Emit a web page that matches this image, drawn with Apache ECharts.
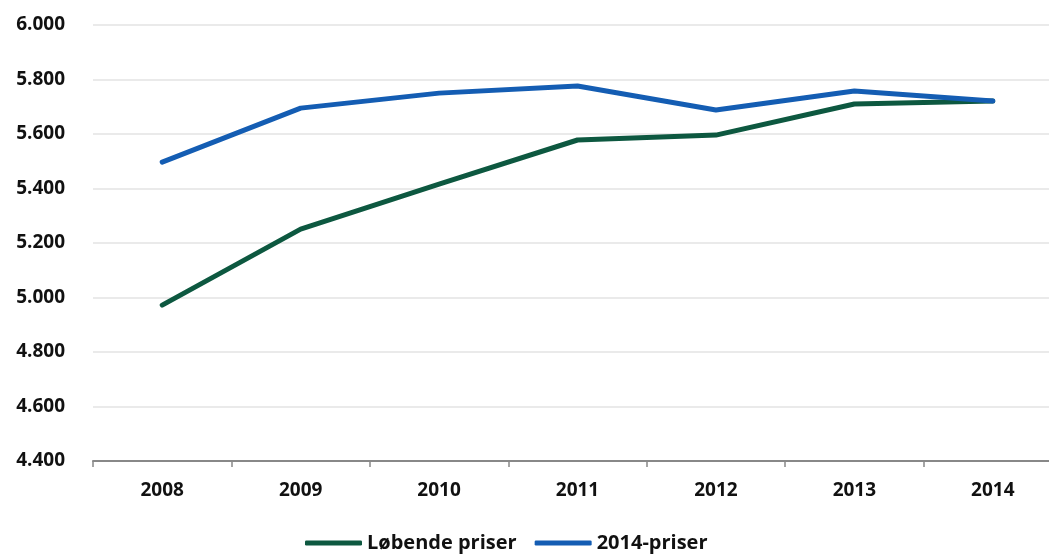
<!DOCTYPE html>
<html>
<head>
<meta charset="utf-8">
<script src="https://cdn.jsdelivr.net/npm/echarts@6/dist/echarts.min.js"></script>
<style>
html,body{margin:0;padding:0;background:#fff;overflow:hidden;width:1049px;height:555px;}
#c{width:1062px;height:555px;}
</style>
</head>
<body>
<div id="c"></div>
<script>
const categories = ['2008','2009','2010','2011','2012','2013','2014'];
const lobendePriser = [4972, 5251, 5416, 5578, 5596, 5710, 5721];
const priser2014 = [5497, 5695, 5750, 5776, 5688, 5758, 5721];
const seriesNames = ['Løbende priser', '2014-priser'];

const chart = echarts.init(document.getElementById('c'));
const font = '"Open Sans", sans-serif';
chart.setOption({
  animation: false,
  grid: {left: 93, right: 0, top: 25, bottom: 94},
  legend: {
    bottom: -3,
    left: 300,
    itemWidth: 57,
    itemHeight: 5,
    itemGap: 18,
    icon: 'roundRect',
    textStyle: {fontFamily: font, fontSize: 20, fontWeight: 'bold', color: '#111'},
    data: seriesNames
  },
  xAxis: {
    type: 'category',
    data: categories,
    boundaryGap: true,
    axisLine: {lineStyle: {color: '#888', width: 2}},
    axisTick: {show: true, length: 6, lineStyle: {color: '#888', width: 1.5}},
    axisLabel: {fontFamily: font, fontSize: 19, fontWeight: 'bold', color: '#111', margin: 20}
  },
  yAxis: {
    type: 'value',
    min: 4400, max: 6000, interval: 200,
    axisLine: {show: false},
    axisTick: {show: false},
    splitLine: {lineStyle: {color: '#e3e3e3', width: 1.5}},
    axisLabel: {
      fontFamily: font, fontSize: 19, fontWeight: 'bold', color: '#111', margin: 28,
      formatter: v => (v/1000).toFixed(3)
    }
  },
  series: [
    {name: seriesNames[0], type: 'line', data: lobendePriser, symbol: 'none',
     lineStyle: {width: 5, color: '#0d5840', cap: 'round'}, itemStyle: {color: '#0d5840'}},
    {name: seriesNames[1], type: 'line', data: priser2014, symbol: 'none',
     lineStyle: {width: 5, color: '#145db3', cap: 'round'}, itemStyle: {color: '#145db3'}}
  ]
});
</script>
</body>
</html>
